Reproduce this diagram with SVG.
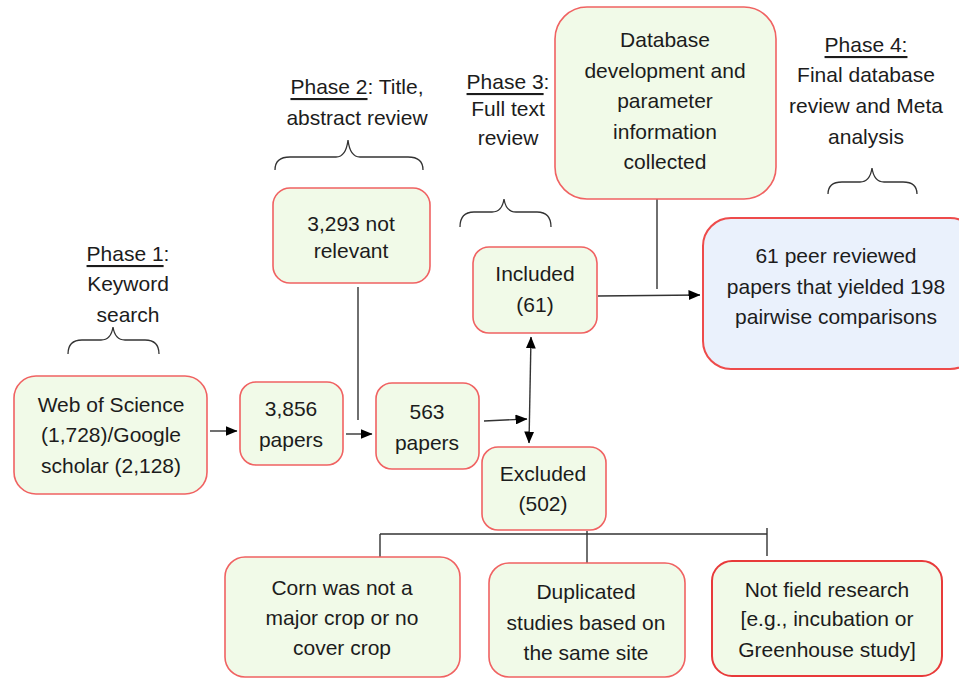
<svg xmlns="http://www.w3.org/2000/svg" width="959" height="678" viewBox="0 0 959 678">
<style>
.box{fill:#f1fae8;stroke:#f06262;stroke-width:1.6}
.blue{fill:#eaf1fc;stroke:#ee4b4b;stroke-width:2}
.strong{stroke:#e83a3a;stroke-width:2}
text{font-family:"Liberation Sans",Arial,sans-serif;font-size:21px;fill:#1c1c1c;text-anchor:middle;dominant-baseline:central}
.u{text-decoration:underline}
.ln{stroke:#333;stroke-width:1.4;fill:none}
.br{stroke:#333;stroke-width:1.3;fill:none}
</style>
<defs>
<marker id="ah" viewBox="0 0 12 10" refX="11.5" refY="5" markerWidth="12" markerHeight="10" markerUnits="userSpaceOnUse" orient="auto-start-reverse">
<path d="M0,0 L12,5 L0,10 Z" fill="#000"/>
</marker>
</defs>

<g id="phase1">
<text x="128" y="253"><tspan class="u">Phase 1</tspan>:</text>
<text x="128" y="283">Keyword</text>
<text x="128" y="314">search</text>
<path class="br" d="M68,354 Q68,340 82,340 L101,340 Q111,340 113,327 Q115,340 125,340 L145,340 Q159,340 159,354"/>
</g>
<g id="phase2">
<text x="357" y="86"><tspan class="u">Phase 2</tspan>: Title,</text>
<text x="357" y="117">abstract review</text>
<path class="br" d="M275,170 Q275,157 290,157 L336,157 Q346,157 348,140 Q350,157 360,157 L408,157 Q423,157 423,170"/>
</g>
<g id="phase3">
<text x="508" y="81"><tspan class="u">Phase 3</tspan>:</text>
<text x="508" y="108">Full text</text>
<text x="508" y="137">review</text>
<path class="br" d="M460,227 Q460,212 474,212 L492,212 Q502,212 504,199 Q506,212 516,212 L537,212 Q551,212 551,227"/>
</g>
<g id="phase4">
<text x="866" y="44"><tspan class="u">Phase 4:</tspan></text>
<text x="866" y="74">Final database</text>
<text x="866" y="105">review and Meta</text>
<text x="866" y="136">analysis</text>
<path class="br" d="M828,194 Q828,182 842,182 L860,182 Q870,182 872,168 Q874,182 884,182 L903,182 Q917,182 917,194"/>
</g>

<g id="connectors">
<line class="ln" x1="210" y1="431" x2="237" y2="431" marker-end="url(#ah)"/>
<line class="ln" x1="346" y1="434" x2="372" y2="434" marker-end="url(#ah)"/>
<line class="ln" x1="358" y1="287" x2="358" y2="420"/>
<line class="ln" x1="484" y1="421" x2="527" y2="419" marker-end="url(#ah)"/>
<line class="ln" x1="531" y1="337" x2="529" y2="443" marker-start="url(#ah)" marker-end="url(#ah)"/>
<line class="ln" x1="657" y1="199" x2="657" y2="289"/>
<line class="ln" x1="598" y1="296" x2="700" y2="295" marker-end="url(#ah)"/>
<line class="ln" x1="380" y1="534" x2="767" y2="534"/>
<line class="ln" x1="380" y1="534" x2="380" y2="557"/>
<line class="ln" x1="587" y1="531" x2="587" y2="563"/>
<line class="ln" x1="767" y1="528" x2="767" y2="556"/>
</g>

<g id="web-of-science">
<rect class="box" x="14" y="376" width="193" height="118" rx="22"/>
<text x="111" y="404">Web of Science</text>
<text x="111" y="434">(1,728)/Google</text>
<text x="111" y="465">scholar (2,128)</text>
</g>
<g id="papers-3856">
<rect class="box" x="240" y="382" width="103" height="83" rx="16"/>
<text x="291" y="408">3,856</text>
<text x="291" y="439">papers</text>
</g>
<g id="not-relevant">
<rect class="box" x="273" y="188" width="157" height="95" rx="17"/>
<text x="351" y="223">3,293 not</text>
<text x="351" y="250">relevant</text>
</g>
<g id="papers-563">
<rect class="box" x="376" y="383" width="103" height="86" rx="16"/>
<text x="427" y="411">563</text>
<text x="427" y="442">papers</text>
</g>
<g id="included">
<rect class="box" x="473" y="247" width="124" height="86" rx="16"/>
<text x="535" y="273">Included</text>
<text x="535" y="304">(61)</text>
</g>
<g id="excluded">
<rect class="box" x="482" y="447" width="124" height="83" rx="16"/>
<text x="543" y="473">Excluded</text>
<text x="543" y="503">(502)</text>
</g>
<g id="database">
<rect class="box" x="555" y="7" width="221" height="192" rx="32"/>
<text x="665" y="39">Database</text>
<text x="665" y="70">development and</text>
<text x="665" y="100">parameter</text>
<text x="665" y="131">information</text>
<text x="665" y="161">collected</text>
</g>
<g id="final">
<rect class="blue" x="703" y="218" width="275" height="151" rx="28"/>
<text x="836" y="255">61 peer reviewed</text>
<text x="836" y="286">papers that yielded 198</text>
<text x="836" y="316">pairwise comparisons</text>
</g>
<g id="corn">
<rect class="box" x="225" y="557" width="235" height="120" rx="20"/>
<text x="342" y="587">Corn was not a</text>
<text x="342" y="617">major crop or no</text>
<text x="342" y="647">cover crop</text>
</g>
<g id="duplicated">
<rect class="box" x="489" y="563" width="196" height="114" rx="20"/>
<text x="586" y="591">Duplicated</text>
<text x="586" y="622">studies based on</text>
<text x="586" y="652">the same site</text>
</g>
<g id="not-field">
<rect class="box strong" x="712" y="561" width="230" height="115" rx="20"/>
<text x="827" y="589">Not field research</text>
<text x="827" y="618">[e.g., incubation or</text>
<text x="827" y="649">Greenhouse study]</text>
</g>
</svg>
